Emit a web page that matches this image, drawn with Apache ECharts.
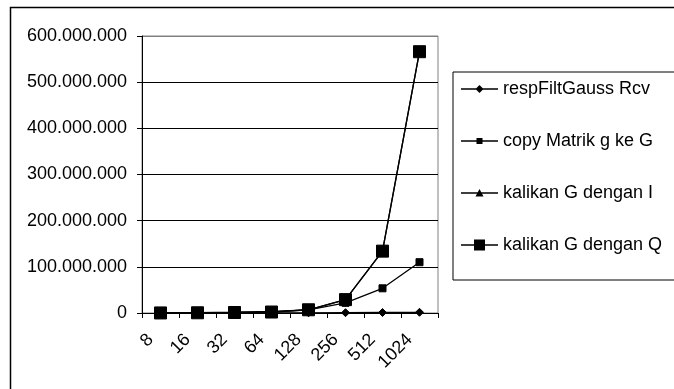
<!DOCTYPE html>
<html>
<head>
<meta charset="utf-8">
<script src="https://cdn.jsdelivr.net/npm/echarts@6/dist/echarts.min.js"></script>
<style>
html,body{margin:0;padding:0;background:#fff;}
#c{width:674px;height:389px;}
</style>
</head>
<body>
<div id="c"></div>
<script>
const categories = ['8','16','32','64','128','256','512','1024'];
const seriesNames = ['respFiltGauss Rcv','copy Matrik g ke G','kalikan G dengan I','kalikan G dengan Q'];
const respFiltGauss = [20000, 45000, 90000, 180000, 360000, 720000, 1100000, 1500000];
const copyMatrik = [400000, 850000, 1700000, 3400000, 6800000, 22000000, 53500000, 110000000];
const kalikanI = [130000, 500000, 1100000, 2100000, 7000000, 29000000, 134000000, 566000000];
const kalikanQ = [130000, 500000, 1100000, 2100000, 7000000, 29000000, 134000000, 566000000];
const yTicks = [0, 100000000, 200000000, 300000000, 400000000, 500000000, 600000000];

const FONT = 'Liberation Sans, Arial, sans-serif';
function fmt(v){ return String(Math.round(v)).replace(/\B(?=(\d{3})+(?!\d))/g, '.'); }

const chart = echarts.init(document.getElementById('c'));
const symbols = ['diamond','rect','triangle','rect'];
const sizes = [8, 7, 8, 12];
const datas = [respFiltGauss, copyMatrik, kalikanI, kalikanQ];

// legend icons: line + marker in a 37x12 box
const LINE = 'M0,5.35H37V6.65H0Z';
const ANCH = 'M0,0L0,0Z M37,12L37,12Z ';
const legendIcons = [
  'path://' + ANCH + LINE + ' M18.5,2L22.5,6L18.5,10L14.5,6Z',
  'path://' + ANCH + LINE + ' M15.5,3H21.5V9H15.5Z',
  'path://' + ANCH + LINE + ' M18.5,2L22.5,9.5L14.5,9.5Z',
  'path://' + ANCH + LINE + ' M13,0.5H24V11.5H13Z'
];

chart.setOption({
  animation: false,
  backgroundColor: '#fff',
  graphic: [{
    type: 'rect', silent: true, z: -1,
    shape: {x: 10.5, y: 7.5, width: 700, height: 420},
    style: {fill: 'none', stroke: '#000', lineWidth: 1.5}
  }],
  grid: {left: 142, right: 236, top: 36, bottom: 76, show: true, borderColor: '#808080', borderWidth: 1, backgroundColor: 'transparent'},
  legend: {
    orient: 'vertical', left: 453, top: 72,
    padding: [8, 20, 26, 8],
    itemWidth: 37, itemHeight: 12, itemGap: 34,
    symbolKeepAspect: false,
    borderColor: '#000', borderWidth: 1,
    textStyle: {fontFamily: FONT, fontSize: 18, color: '#000'},
    data: seriesNames.map((n, i) => ({name: n, icon: legendIcons[i], itemStyle: {color: '#000', borderWidth: 0}}))
  },
  xAxis: {
    type: 'category', data: categories, boundaryGap: true,
    axisLine: {lineStyle: {color: '#000', width: 1}},
    axisTick: {show: true, length: 5, lineStyle: {color: '#000'}},
    axisLabel: {rotate: 45, margin: 14, padding: [0, 14, 0, 0], fontFamily: FONT, fontSize: 18, color: '#000', interval: 0},
    splitLine: {show: false}
  },
  yAxis: {
    type: 'value', min: yTicks[0], max: yTicks[yTicks.length-1], interval: 100000000,
    axisLine: {show: true, lineStyle: {color: '#000', width: 1}},
    axisTick: {show: true, length: 5, lineStyle: {color: '#000'}},
    axisLabel: {margin: 15, fontFamily: FONT, fontSize: 18, color: '#000', formatter: fmt},
    splitLine: {show: true, lineStyle: {color: ['#000','#000','#000','#000','#000','#000','#808080'], width: 1}}
  },
  series: seriesNames.map((n, i) => ({
    name: n, type: 'line', data: datas[i],
    symbol: symbols[i], symbolSize: sizes[i], showAllSymbol: true,
    lineStyle: {color: '#000', width: 1.3},
    itemStyle: {color: '#000', borderColor: '#000'},
    z: 2 + i
  }))
});
</script>
</body>
</html>
